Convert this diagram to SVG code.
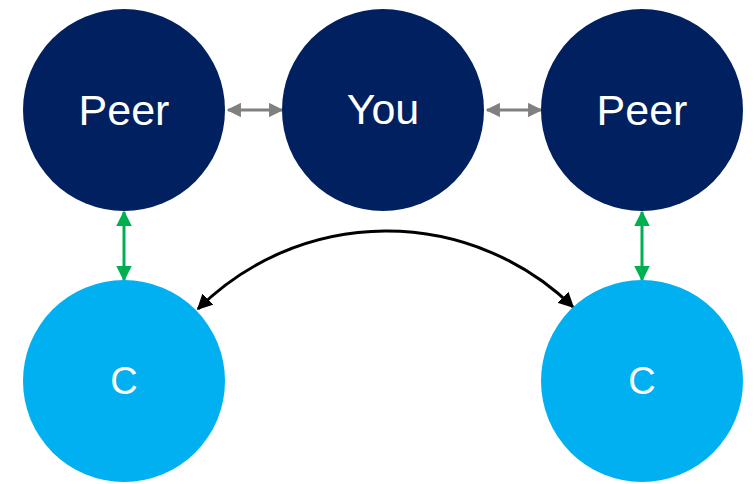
<svg xmlns="http://www.w3.org/2000/svg" width="754" height="484" viewBox="0 0 754 484">
<style>
.dark{fill:#002060}
.light{fill:#00B0F0}
.lbl{fill:#fff;font-family:"Liberation Sans",Arial,sans-serif;font-size:43px;text-anchor:middle}
.sm{font-size:38px}
</style>
<defs>
<marker id="ag" viewBox="0 0 10 10" refX="9" refY="5" markerWidth="4.8" markerHeight="4.8" orient="auto-start-reverse" markerUnits="strokeWidth"><path d="M0,0L10,5L0,10z" fill="#808080"/></marker>
<marker id="agr" viewBox="0 0 10 10" refX="9" refY="5" markerWidth="5.2" markerHeight="5.2" orient="auto-start-reverse" markerUnits="strokeWidth"><path d="M0,0L10,5L0,10z" fill="#00B050"/></marker>
<marker id="ab" viewBox="0 0 10 10" refX="9" refY="5" markerWidth="5.2" markerHeight="5.2" orient="auto-start-reverse" markerUnits="strokeWidth"><path d="M0,0L10,5L0,10z" fill="#000"/></marker>
</defs>
<g id="connectors" fill="none">
<path d="M228,110H282" stroke="#808080" stroke-width="3" marker-start="url(#ag)" marker-end="url(#ag)"/>
<path d="M487,110H541" stroke="#808080" stroke-width="3" marker-start="url(#ag)" marker-end="url(#ag)"/>
<path d="M124,212V280" stroke="#00B050" stroke-width="3" marker-start="url(#agr)" marker-end="url(#agr)"/>
<path d="M642,212V280" stroke="#00B050" stroke-width="3" marker-start="url(#agr)" marker-end="url(#agr)"/>
<path d="M198,309A267,267 0 0 1 573,307" stroke="#000" stroke-width="3" marker-start="url(#ab)" marker-end="url(#ab)"/>
</g>
<g id="peer-left"><circle class="dark" cx="124" cy="110" r="101"/><text class="lbl" x="124" y="125">Peer</text></g>
<g id="you"><circle class="dark" cx="383" cy="110" r="101"/><text class="lbl" x="383" y="124">You</text></g>
<g id="peer-right"><circle class="dark" cx="642" cy="110" r="101"/><text class="lbl" x="642" y="125">Peer</text></g>
<g id="c-left"><circle class="light" cx="124" cy="381" r="101"/><text class="lbl sm" x="124" y="394">C</text></g>
<g id="c-right"><circle class="light" cx="642" cy="381" r="101"/><text class="lbl sm" x="642" y="394">C</text></g>
</svg>
